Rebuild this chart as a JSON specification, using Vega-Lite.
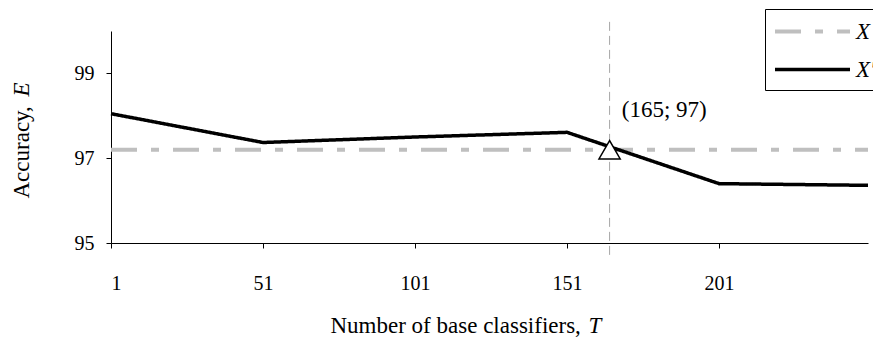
{
  "$schema": "https://vega.github.io/schema/vega-lite/v6.json",
  "width": 757,
  "height": 212,
  "autosize": {"type": "none"},
  "padding": {"left": 111, "top": 31, "right": 5, "bottom": 97},
  "background": "white",
  "config": {
    "view": {"stroke": null},
    "font": "Liberation Serif",
    "axis": {"grid": false, "domainColor": "black", "tickColor": "black", "labelColor": "black", "titleColor": "black", "labelFont": "Liberation Serif", "titleFont": "Liberation Serif", "labelFontSize": 20, "titleFontSize": 23, "titleFontWeight": "normal", "tickSize": 5, "domainWidth": 1, "tickWidth": 1}
  },
  "datasets": {
    "lines": [
      {"T": 1, "E": 97.2, "series": "X"},
      {"T": 250, "E": 97.2, "series": "X"},
      {"T": 1, "E": 98.05, "series": "X′"},
      {"T": 51, "E": 97.37, "series": "X′"},
      {"T": 101, "E": 97.5, "series": "X′"},
      {"T": 151, "E": 97.61, "series": "X′"},
      {"T": 201, "E": 96.4, "series": "X′"},
      {"T": 250, "E": 96.36, "series": "X′"}
    ],
    "marker": [
      {"T": 165, "E": 97.2, "Elo": 94.72, "Ehi": 100.27, "label": "(165; 97)", "Tlabel": 169, "Elabel": 97.97}
    ]
  },
  "resolve": {"axis": {"x": "independent", "y": "independent"}},
  "layer": [
    {
      "data": {"name": "lines"},
      "mark": {"type": "line", "clip": false},
      "encoding": {
        "x": {"field": "T", "type": "quantitative", "scale": {"domain": [1, 250], "nice": false, "zero": false},
          "axis": {"values": [1, 51, 101, 151, 201], "title": "Number of base classifiers,", "labelPadding": 25,
            "titleX": 219, "titleY": 89, "titleAlign": "left", "titleBaseline": "alphabetic", "titleAnchor": null}},
        "y": {"field": "E", "type": "quantitative", "scale": {"domain": [95, 100], "nice": false, "zero": false},
          "axis": {"values": [95, 97, 99], "title": "Accuracy,", "labelPadding": 12,
            "titleX": -83, "titleY": 167, "titleAngle": -90, "titleAlign": "left", "titleBaseline": "alphabetic", "titleAnchor": null}},
        "color": {"field": "series", "type": "nominal", "scale": {"domain": ["X", "X′"], "range": ["#bfbfbf", "#000000"]},
          "legend": {"orient": "none", "legendX": 654, "legendY": -22, "title": null, "strokeColor": "black", "padding": 8,
            "labelFont": "Liberation Serif", "labelFontStyle": "italic", "labelFontSize": 23, "labelColor": "black",
            "symbolType": "M-3,0H3", "symbolSize": 625, "symbolOffset": 25, "labelOffset": 29, "rowPadding": 11}},
        "strokeDash": {"field": "series", "type": "nominal", "scale": {"domain": ["X", "X′"], "range": [[26, 14, 8, 14], [1, 0]]}},
        "strokeWidth": {"field": "series", "type": "nominal", "scale": {"domain": ["X", "X′"], "range": [4, 3.5]}}
      }
    },
    {
      "data": {"name": "marker"},
      "mark": {"type": "rule", "color": "#a6a6a6", "strokeWidth": 1, "strokeDash": [9, 5], "clip": false},
      "encoding": {
        "x": {"field": "T", "type": "quantitative", "axis": null},
        "y": {"field": "Elo", "type": "quantitative", "axis": null},
        "y2": {"field": "Ehi"}
      }
    },
    {
      "data": {"name": "marker"},
      "mark": {"type": "point", "shape": "triangle-up", "filled": true, "fill": "white", "stroke": "black", "strokeWidth": 1.5, "size": 450, "opacity": 1},
      "encoding": {
        "x": {"field": "T", "type": "quantitative", "axis": null},
        "y": {"field": "E", "type": "quantitative", "axis": null}
      }
    },
    {
      "data": {"name": "marker"},
      "mark": {"type": "text", "align": "left", "baseline": "alphabetic", "font": "Liberation Serif", "fontSize": 23, "color": "black"},
      "encoding": {
        "x": {"field": "Tlabel", "type": "quantitative",
          "axis": {"orient": "top", "domain": false, "ticks": false, "labels": false, "title": "T", "titleFontStyle": "italic",
            "titleX": 477, "titleY": 301, "titleAlign": "left", "titleBaseline": "alphabetic", "titleAnchor": null}},
        "y": {"field": "Elabel", "type": "quantitative",
          "axis": {"orient": "right", "domain": false, "ticks": false, "labels": false, "title": "E", "titleFontStyle": "italic",
            "titleX": -840, "titleY": 65, "titleAngle": -90, "titleAlign": "left", "titleBaseline": "alphabetic", "titleAnchor": null}},
        "text": {"field": "label"}
      }
    }
  ]
}
